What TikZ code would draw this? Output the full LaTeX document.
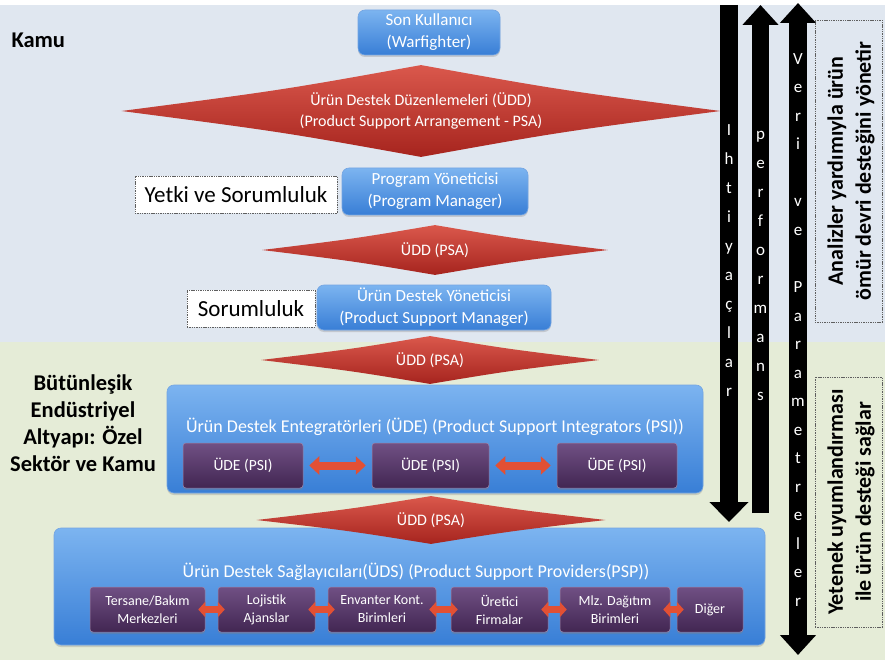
\documentclass[tikz,border=0pt]{standalone}
\usepackage{fontspec}
\setmainfont{Carlito}
\usetikzlibrary{shapes.geometric,arrows.meta,shadows,calc}

\definecolor{skyband}{RGB}{224,231,240}
\definecolor{sageband}{RGB}{229,236,215}
\definecolor{boxtop}{RGB}{124,180,240}
\definecolor{boxbot}{RGB}{56,126,214}
\definecolor{plumtop}{RGB}{112,80,132}
\definecolor{plumbot}{RGB}{66,38,82}
\definecolor{redtop}{RGB}{218,88,76}
\definecolor{redbot}{RGB}{166,36,30}
\definecolor{linkred}{RGB}{226,80,52}
\definecolor{framegray}{RGB}{95,95,95}

\begin{document}
\begin{tikzpicture}[x=1pt,y=-1pt,
  bluebox/.style={rectangle, rounded corners=7pt, top color=boxtop, bottom color=boxbot,
    draw=boxbot!70!white, line width=0.6pt, text=white, align=center, inner sep=0pt,
    drop shadow={shadow xshift=0pt, shadow yshift=-2pt, opacity=0.3}},
  plumbox/.style={rectangle, rounded corners=3pt, top color=plumtop, bottom color=plumbot,
    draw=plumtop!70!white, line width=0.5pt, text=white, align=center, inner sep=0pt,
    drop shadow={shadow xshift=0pt, shadow yshift=-2pt, opacity=0.35}},
  % diamond outline kept for anchors; the visible body has slightly hollow sides
  uddshape/.style={diamond, text=white, align=center, inner sep=0pt,
    font=\fontsize{16}{21}\selectfont,
    path picture={
      \coordinate (ppw) at (path picture bounding box.west);
      \coordinate (ppn) at (path picture bounding box.north);
      \coordinate (ppe) at (path picture bounding box.east);
      \coordinate (pps) at (path picture bounding box.south);
      \coordinate (ppc) at (path picture bounding box.center);
      \shade[top color=redtop, bottom color=redbot]
        (ppw) .. controls ($(ppw)!0.5!(ppn)!0.08!(ppc)$) .. (ppn)
              .. controls ($(ppn)!0.5!(ppe)!0.08!(ppc)$) .. (ppe)
              .. controls ($(ppe)!0.5!(pps)!0.08!(ppc)$) .. (pps)
              .. controls ($(pps)!0.5!(ppw)!0.08!(ppc)$) .. (ppw) -- cycle;
    }},
  noteframe/.style={rectangle, draw=framegray, dash pattern=on 1.4pt off 0.9pt,
    line width=0.9pt, inner sep=0pt},
  glyph/.style={text=white, inner sep=0pt, text height=9pt, text depth=2pt,
    font=\fontsize{17}{17}\selectfont},
  psilink/.style={draw=linkred, line width=8pt,
    {Triangle[width=18pt,length=10pt]}-{Triangle[width=18pt,length=10pt]},
    shorten <=6pt, shorten >=6pt},
  psplink/.style={draw=linkred, line width=7pt,
    {Triangle[width=15pt,length=7pt]}-{Triangle[width=15pt,length=7pt]},
    shorten <=-7pt, shorten >=-7pt},
  bigarrow/.style={draw=black, line width=18pt},
  boxfont/.style={font=\fontsize{17}{22}\selectfont},
  labelfont/.style={font=\bfseries\fontsize{22.5}{27}\selectfont}
]
\useasboundingbox (0,0) rectangle (885,660);

% background bands
\fill[white] (0,0) rectangle (885,660);
\fill[skyband] (0,5) rectangle (885,342);
\fill[sageband] (0,342) rectangle (885,660);

% public-sector label
\node[anchor=west, labelfont] (kamu) at (8,40) {Kamu};

% end user
\node[bluebox, boxfont, minimum width=142pt, minimum height=45pt]
  (user) at (429,32.5) {Son Kullanıcı\\(Warfighter)};

% product support arrangements
\node[uddshape, minimum width=599pt, minimum height=92pt, aspect=6.5]
  (udd1) at (421,111) {Ürün Destek Düzenlemeleri (ÜDD)\\(Product Support Arrangement - PSA)};

% program manager row
\node[noteframe, fill=white, minimum width=202pt, minimum height=37pt,
  font=\fontsize{23}{26}\selectfont] (yetki) at (236,194.5) {Yetki ve Sorumluluk};
\node[bluebox, boxfont, minimum width=186pt, minimum height=47pt]
  (pm) at (435,191.5) {Program Yöneticisi\\(Program Manager)};

\node[uddshape, minimum width=346pt, minimum height=50pt, aspect=6.9]
  (udd2) at (435,250) {ÜDD (PSA)};

% product support manager row
\node[noteframe, fill=white, minimum width=128pt, minimum height=37pt,
  font=\fontsize{23}{26}\selectfont] (soruml) at (251,308.5) {Sorumluluk};
\node[bluebox, boxfont, minimum width=234pt, minimum height=45pt]
  (psm) at (434,307.5) {Ürün Destek Yöneticisi\\(Product Support Manager)};

% industrial base label
\node[align=center, labelfont] (altyapi) at (83,423)
  {Bütünleşik\\Endüstriyel\\Altyapı: Özel\\Sektör ve Kamu};

% integrators
\node[bluebox, minimum width=536pt, minimum height=108pt] (psi) at (435,439) {};
\node[uddshape, minimum width=338pt, minimum height=48pt, aspect=7]
  (udd3) at (430,360) {ÜDD (PSA)};
\node[text=white, inner sep=0pt, font=\fontsize{18}{21}\selectfont] (psititle) at (435,427)
  {Ürün Destek Entegratörleri (ÜDE) (Product Support Integrators (PSI))};
\begin{scope}[every node/.append style={font=\fontsize{15.5}{18}\selectfont}]
\node[plumbox, minimum width=120pt, minimum height=45pt] (ude1) at (243,465.5) {ÜDE (PSI)};
\node[plumbox, minimum width=117pt, minimum height=45pt] (ude2) at (430.5,465.5) {ÜDE (PSI)};
\node[plumbox, minimum width=120pt, minimum height=45pt] (ude3) at (617,465.5) {ÜDE (PSI)};
\end{scope}
\draw[psilink] (ude1) -- (ude2);
\draw[psilink] (ude2) -- (ude3);

% providers
\node[bluebox, minimum width=711pt, minimum height=117pt] (psp) at (409.5,586.5) {};
\node[uddshape, minimum width=349pt, minimum height=48pt, aspect=7.2]
  (udd4) at (431,520) {ÜDD (PSA)};
\node[text=white, inner sep=0pt, font=\fontsize{18}{21}\selectfont] (psptitle) at (416,572)
  {Ürün Destek Sağlayıcıları(ÜDS) (Product Support Providers(PSP))};
\begin{scope}[every node/.append style={font=\fontsize{14}{18}\selectfont}]
\node[plumbox, minimum width=115pt, minimum height=45pt] (tersane) at (147.5,609.5)
  {Tersane/Bakım\\Merkezleri};
\node[plumbox, minimum width=97pt, minimum height=45pt] (lojistik) at (266.5,609.5)
  {Lojistik\\Ajanslar};
\node[plumbox, minimum width=108pt, minimum height=45pt] (envanter) at (382,609.5)
  {Envanter Kont.\\Birimleri};
\node[plumbox, minimum width=97pt, minimum height=45pt] (uretici) at (499.5,609.5)
  {Üretici\\Firmalar};
\node[plumbox, minimum width=110pt, minimum height=45pt] (dagitim) at (615,609.5)
  {Mlz. Dağıtım\\Birimleri};
\node[plumbox, minimum width=66pt, minimum height=45pt] (diger) at (710,609.5)
  {Diğer};
\end{scope}
\draw[psplink] (tersane) -- (lojistik);
\draw[psplink] (lojistik) -- (envanter);
\draw[psplink] (envanter) -- (uretici);
\draw[psplink] (uretici) -- (dagitim);
\draw[psplink] (dagitim) -- (diger);

% vertical flows: needs, performance, data and parameters
\coordinate (iht-top) at (729,5);
\coordinate (iht-end) at (729,522);
\coordinate (perf-top) at (760.5,5);
\coordinate (perf-end) at (760.5,513);
\coordinate (veri-top) at (798,3);
\coordinate (veri-end) at (798,655);
\draw[bigarrow, -{Triangle[width=38pt,length=20pt]}] (iht-top) -- (iht-end);
\draw[bigarrow, line width=17pt, -{Triangle[width=35pt,length=20pt]}] (perf-end) -- (perf-top);
\draw[bigarrow, {Triangle[width=35pt,length=20pt]}-{Triangle[width=35pt,length=20pt]}]
  (veri-top) -- (veri-end);

\foreach \ch [count=\k from 0] in {I,h,t,i,y,a,ç,l,a,r}
  \node[glyph] (iht-\k) at (729,{132+29*\k}) {\ch};
\foreach \ch [count=\k from 0] in {p,e,r,f,o,r,m,a,n,s}
  \node[glyph] (perf-\k) at (760.5,{136+29*\k}) {\ch};
\foreach \ch/\s in {V/0,e/1,r/2,i/3,v/5,e/6,P/8,a/9,r/10,a/11,m/12,e/13,t/14,r/15,e/16,l/17,e/18,r/19}
  \node[glyph] (veri-\s) at (798,{61+28.5*\s}) {\ch};

% right-hand notes
\node[noteframe, minimum width=67pt, minimum height=302pt] (notetop) at (848.5,171) {};
\node[rotate=90, align=center, font=\bfseries\fontsize{22}{28}\selectfont] (notetoptext)
  at (851,171) {Analizler yardımıyla ürün\\ömür devri desteğini yönetir};
\node[noteframe, minimum width=67pt, minimum height=250pt] (notebot) at (848.5,502) {};
\node[rotate=90, align=center, font=\bfseries\fontsize{22}{28}\selectfont] (notebottext)
  at (851,502) {Yetenek uyumlandırması\\ile ürün desteği sağlar};
\end{tikzpicture}
\end{document}
